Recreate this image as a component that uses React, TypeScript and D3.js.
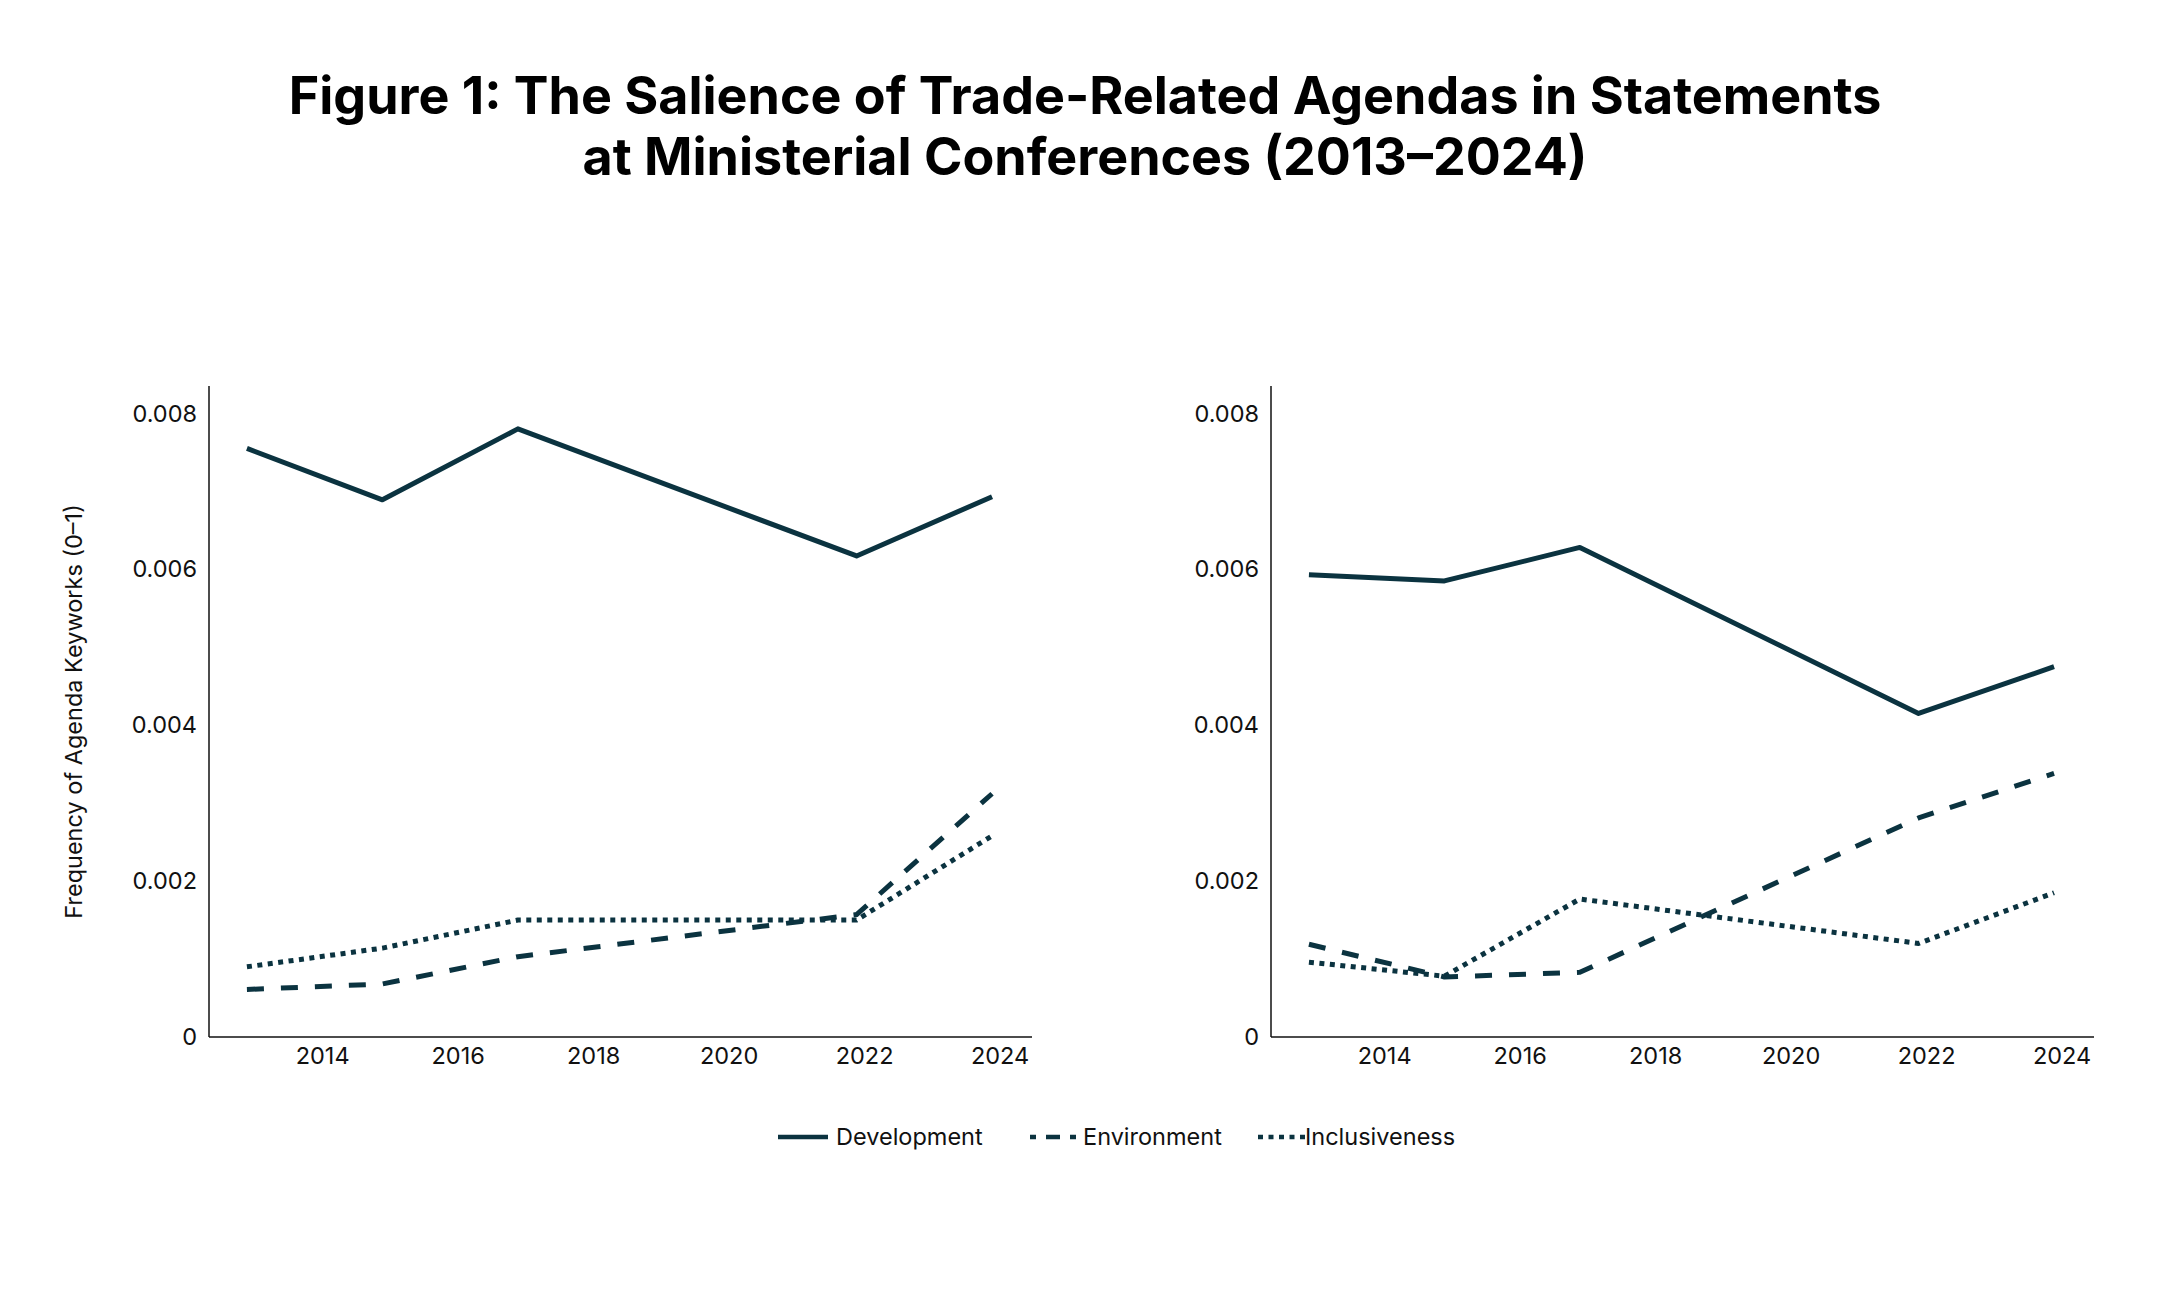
import * as d3 from "d3";

// Ministerial conference years
const years = [2013, 2015, 2017, 2022, 2024];

// Left panel
const leftDevelopment = [0.00755, 0.00689, 0.0078, 0.00617, 0.00693];
const leftEnvironment = [0.00061, 0.00068, 0.00103, 0.00157, 0.00312];
const leftInclusiveness = [0.0009, 0.00114, 0.0015, 0.0015, 0.00258];

// Right panel
const rightDevelopment = [0.00593, 0.00585, 0.00628, 0.00415, 0.00475];
const rightEnvironment = [0.00119, 0.00077, 0.00083, 0.00281, 0.00338];
const rightInclusiveness = [0.00096, 0.00078, 0.00177, 0.0012, 0.00185];

const xTicks = [2014, 2016, 2018, 2020, 2022, 2024];
const yTicks = [0, 0.002, 0.004, 0.006, 0.008];
const seriesNames = ["Development", "Environment", "Inclusiveness"];

const COLOR = "#0b3340";
const FONT = "Inter, 'Noto Sans', sans-serif";
const dashes: Record<string, string | undefined> = {
  Development: undefined,
  Environment: "17,17",
  Inclusiveness: "5,5.5",
};

const width = 2160;
const height = 1294;
const top = 386;
const bottom = 1037;
const panelWidth = 823;
const panelLefts = [209, 1271];
const labelSize = 23.5;

const y = d3.scaleLinear().domain([0, 0.00835]).range([bottom, top]);

function Panel({ left, series }: { left: number; series: number[][] }) {
  const x = d3.scaleLinear().domain([2012.44, 2024.59]).range([left, left + panelWidth]);
  const line = d3
    .line<number>()
    .x((_, i) => x(years[i]))
    .y((d) => y(d));

  return (
    <g>
      {series.map((vals, i) => (
        <path
          key={seriesNames[i]}
          d={line(vals) ?? ""}
          fill="none"
          stroke={COLOR}
          strokeWidth={5}
          strokeDasharray={dashes[seriesNames[i]]}
          strokeLinejoin="round"
        />
      ))}
      {/* axes */}
      <line x1={left} x2={left} y1={top} y2={bottom} stroke="#111" strokeWidth={1.5} />
      <line x1={left} x2={left + panelWidth} y1={bottom} y2={bottom} stroke="#111" strokeWidth={1.5} />
      {yTicks.map((t) => (
        <text
          key={t}
          x={left - 12}
          y={y(t)}
          dy="0.35em"
          textAnchor="end"
          fontSize={labelSize}
          fontFamily={FONT}
          fill="#111"
        >
          {t === 0 ? "0" : d3.format(".3f")(t)}
        </text>
      ))}
      {xTicks.map((t) => (
        <text
          key={t}
          x={x(t)}
          dx={8}
          y={1064}
          textAnchor="middle"
          fontSize={labelSize}
          fontFamily={FONT}
          fill="#111"
        >
          {t}
        </text>
      ))}
    </g>
  );
}

const legendPos = [
  { sx: 778, tx: 836 },
  { sx: 1030, tx: 1083 },
  { sx: 1258, tx: 1305 },
];

export default function App() {
  return (
    <svg
      width={width}
      height={height}
      style={{ display: "block", position: "absolute", left: 0, top: 0, background: "#fff" }}
    >
      <text
        x={1085}
        y={114}
        textAnchor="middle"
        fontSize={52}
        fontWeight={700}
        fontFamily={FONT}
        fill="#000"
      >
        Figure 1: The Salience of Trade-Related Agendas in Statements
      </text>
      <text
        x={1085}
        y={175}
        textAnchor="middle"
        fontSize={52}
        fontWeight={700}
        fontFamily={FONT}
        fill="#000"
      >
        at Ministerial Conferences (2013–2024)
      </text>

      <text
        transform={`translate(82,${(top + bottom) / 2}) rotate(-90)`}
        textAnchor="middle"
        fontSize={labelSize}
        fontFamily={FONT}
        fill="#111"
      >
        Frequency of Agenda Keyworks (0–1)
      </text>

      <Panel left={panelLefts[0]} series={[leftDevelopment, leftEnvironment, leftInclusiveness]} />
      <Panel left={panelLefts[1]} series={[rightDevelopment, rightEnvironment, rightInclusiveness]} />

      {seriesNames.map((name, i) => (
        <g key={name}>
          <line
            x1={legendPos[i].sx}
            x2={legendPos[i].sx + 50}
            y1={1137}
            y2={1137}
            stroke={COLOR}
            strokeWidth={4.5}
            strokeDasharray={name === "Environment" ? "6,10,14,10,6" : dashes[name]}
          />
          <text
            x={legendPos[i].tx}
            y={1137}
            dy="0.35em"
            fontSize={labelSize}
            fontFamily={FONT}
            fill="#111"
          >
            {name}
          </text>
        </g>
      ))}
    </svg>
  );
}
